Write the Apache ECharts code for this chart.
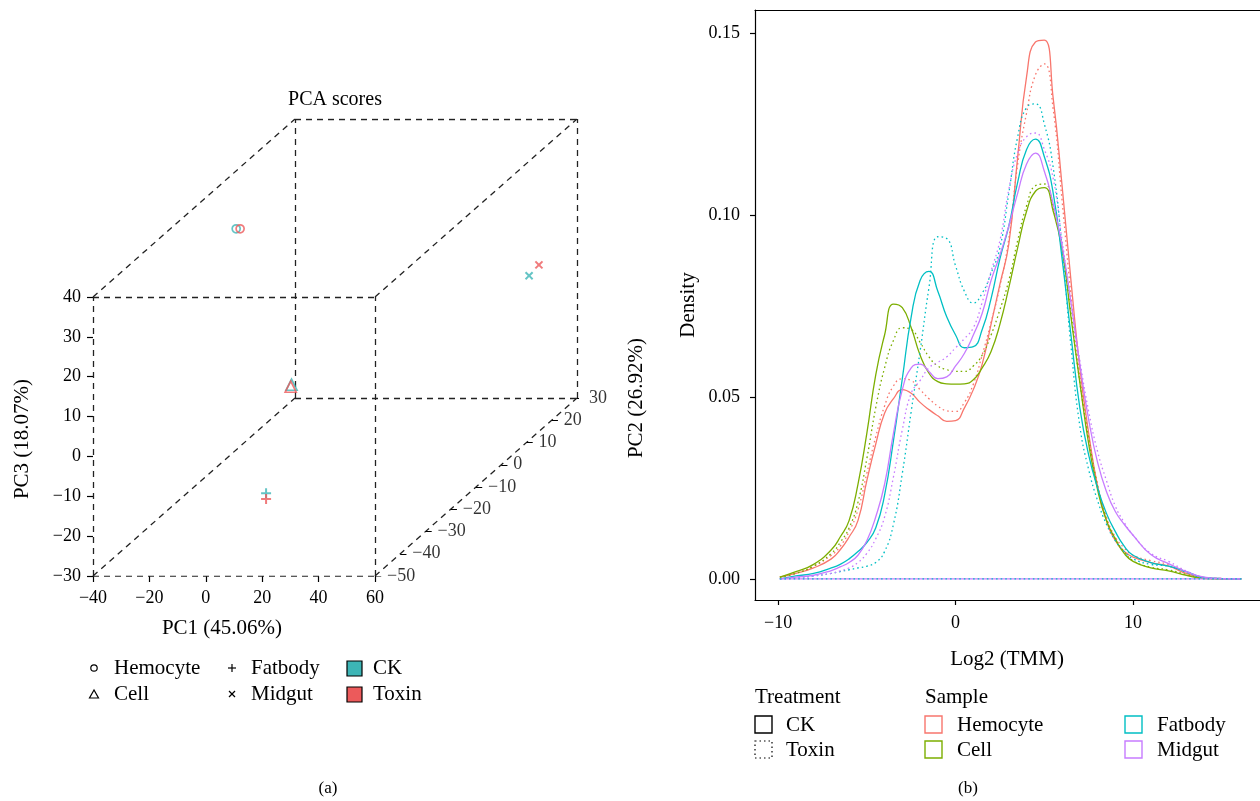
<!DOCTYPE html>
<html>
<head>
<meta charset="utf-8">
<script src="https://cdn.jsdelivr.net/npm/echarts@6/dist/echarts.min.js"></script>
<style>
html, body { margin: 0; padding: 0; background: #fff; }
#chart { width: 1260px; height: 801px; }
</style>
</head>
<body>
<div id="chart"></div>
<script>
const FONT = '"Liberation Serif", "DejaVu Serif", serif'

// ---------- (a) PCA scores ----------
const tissues = ['Hemocyte', 'Cell', 'Fatbody', 'Midgut']
const treatments = ['CK', 'Toxin']
const treatmentColors = ['#3db5b6', '#ec5a5b']

const pc1CK = [-34.0, -27.8, 16.9, 44.8]
const pc2CK = [0, 15, -45, 28]
const pc3CK = [29.2, -18.3, -12.0, 1.8]
const pc1Toxin = [-32.6, -28.1, 16.9, 46.5]
const pc2Toxin = [0, 15, -45, 30]
const pc3Toxin = [29.2, -18.8, -13.5, 3.4]

const pc1Ticks = [-40, -20, 0, 20, 40, 60]
const pc2Ticks = [-50, -40, -30, -20, -10, 0, 10, 20, 30]
const pc3Ticks = [-30, -20, -10, 0, 10, 20, 30, 40]

// ---------- (b) density of Log2(TMM) ----------
const samples = ['Hemocyte', 'Cell', 'Fatbody', 'Midgut']
const sampleColors = ['#F8766D', '#7CAE00', '#00BFC4', '#C77CFF']
const logTmm = [-9.9, -9, -8, -7, -6.5, -6, -5.5, -5, -4.5, -4, -3.5, -3, -2.5, -2, -1.5, -1, -0.5, 0, 0.5, 1,
  1.5, 2, 2.5, 3, 3.5, 4, 4.5, 5, 5.5, 6, 6.5, 7, 7.5, 8, 8.5, 9, 9.5, 10, 11, 12, 13, 14, 15, 16.1]
const hemocyteCK = [0.0005, 0.0015, 0.003, 0.0055, 0.008, 0.0115, 0.016, 0.027, 0.037, 0.0455, 0.0495, 0.052, 0.051, 0.0485, 0.0465, 0.0448, 0.0433, 0.0435, 0.047, 0.052,
  0.059, 0.07, 0.081, 0.092, 0.116, 0.138, 0.1475, 0.148, 0.132, 0.108, 0.082, 0.058, 0.04, 0.0255, 0.016, 0.0105, 0.0075, 0.006, 0.0045, 0.0035, 0.0015, 0.0003, 0.0001, 0]
const hemocyteToxin = [0.0005, 0.0015, 0.0035, 0.0065, 0.009, 0.013, 0.019, 0.029, 0.039, 0.0475, 0.053, 0.055, 0.0545, 0.052, 0.0495, 0.0475, 0.0462, 0.046, 0.0485, 0.0535,
  0.0615, 0.0705, 0.0805, 0.0935, 0.114, 0.128, 0.1385, 0.1415, 0.129, 0.104, 0.078, 0.056, 0.039, 0.026, 0.017, 0.0115, 0.0085, 0.0065, 0.005, 0.004, 0.002, 0.0004, 0.0001, 0]
const cellCK = [0.0005, 0.002, 0.004, 0.008, 0.0115, 0.016, 0.026, 0.04, 0.056, 0.067, 0.0755, 0.0745, 0.069, 0.0615, 0.0565, 0.0542, 0.0536, 0.0535, 0.0536, 0.0547,
  0.058, 0.0625, 0.07, 0.08, 0.091, 0.101, 0.1065, 0.1075, 0.101, 0.0905, 0.072, 0.054, 0.037, 0.0245, 0.016, 0.011, 0.007, 0.0048, 0.003, 0.0022, 0.001, 0.0001, 0, 0]
const cellToxin = [0.0005, 0.0015, 0.0035, 0.007, 0.01, 0.014, 0.021, 0.033, 0.047, 0.058, 0.0655, 0.069, 0.0685, 0.065, 0.061, 0.0585, 0.0575, 0.057, 0.057, 0.0585,
  0.0615, 0.067, 0.074, 0.082, 0.093, 0.1025, 0.108, 0.1085, 0.102, 0.091, 0.073, 0.054, 0.0385, 0.0255, 0.0165, 0.011, 0.0075, 0.005, 0.0032, 0.0025, 0.0012, 0.0002, 0, 0]
const fatbodyCK = [0, 0.0008, 0.0015, 0.003, 0.004, 0.0055, 0.0075, 0.01, 0.014, 0.023, 0.038, 0.055, 0.072, 0.082, 0.0845, 0.079, 0.072, 0.067, 0.0635, 0.0638,
  0.0685, 0.077, 0.088, 0.097, 0.109, 0.118, 0.1208, 0.116, 0.106, 0.088, 0.067, 0.047, 0.034, 0.025, 0.018, 0.013, 0.009, 0.0065, 0.0045, 0.0035, 0.002, 0.0004, 0.0001, 0]
const fatbodyToxin = [0, 0.0003, 0.0008, 0.0015, 0.002, 0.0025, 0.003, 0.0035, 0.0045, 0.0075, 0.015, 0.029, 0.046, 0.0625, 0.08, 0.094, 0.0935, 0.086, 0.079, 0.0758,
  0.0785, 0.084, 0.091, 0.106, 0.1215, 0.1295, 0.1305, 0.125, 0.113, 0.091, 0.064, 0.042, 0.03, 0.0215, 0.015, 0.0105, 0.0075, 0.0055, 0.004, 0.0035, 0.0018, 0.0003, 0.0001, 0]
const midgutCK = [0, 0.0005, 0.001, 0.0023, 0.0033, 0.0045, 0.0065, 0.0105, 0.017, 0.026, 0.04, 0.052, 0.058, 0.059, 0.057, 0.055, 0.0555, 0.0585, 0.062, 0.067,
  0.073, 0.082, 0.089, 0.097, 0.106, 0.114, 0.117, 0.112, 0.103, 0.0915, 0.076, 0.059, 0.0437, 0.032, 0.024, 0.0185, 0.015, 0.012, 0.0067, 0.0042, 0.002, 0.0005, 0.0001, 0]
const midgutToxin = [0, 0.0003, 0.0008, 0.0015, 0.0022, 0.003, 0.0045, 0.007, 0.011, 0.017, 0.028, 0.041, 0.051, 0.0545, 0.058, 0.0595, 0.061, 0.0635, 0.066, 0.069,
  0.076, 0.0845, 0.093, 0.107, 0.117, 0.1215, 0.1225, 0.118, 0.11, 0.093, 0.076, 0.06, 0.046, 0.035, 0.027, 0.02, 0.0155, 0.012, 0.007, 0.0048, 0.0022, 0.0005, 0.0001, 0]
const densityTicksX = [-10, 0, 10]
const densityTicksY = [0, 0.05, 0.1, 0.15]

// oblique projection of the PCA box (scatterplot3d style)
const pc1Lim = [pc1Ticks[0], pc1Ticks[pc1Ticks.length - 1]]
const pc2Lim = [pc2Ticks[0], pc2Ticks[pc2Ticks.length - 1]]
const pc3Lim = [pc3Ticks[0], pc3Ticks[pc3Ticks.length - 1]]
const SHEAR_X = 0.8954
const SHEAR_Y = 0.5582
const proj = (a, b, c) => [a + (b - pc2Lim[0]) * SHEAR_X, c + (b - pc2Lim[0]) * SHEAR_Y]
const depth = pc2Lim[1] - pc2Lim[0]

const corners = []
pc1Lim.forEach(a => pc2Lim.forEach(b => pc3Lim.forEach(c => corners.push([a, b, c]))))
const boxEdges = []
corners.forEach((p, i) => corners.forEach((q, j) => {
    if (j > i && p.filter((v, k) => v !== q[k]).length === 1) boxEdges.push({ coords: [proj(...p), proj(...q)] })
}))
const pc2TickLines = pc2Ticks.map(t => ({ coords: [proj(pc1Lim[1], t, pc3Lim[0]), proj(pc1Lim[1] + 2.2, t, pc3Lim[0])] }))

const minus = v => (v < 0 ? '\u2212' + Math.abs(v) : String(v))

const PLUS = 'path://M4,0H6V4H10V6H6V10H4V6H0V4H4Z'
const markStyle = (i, color) => {
    const hollow = { color: 'rgba(0,0,0,0)', borderColor: color, borderWidth: 1.7 }
    if (i === 0) return { symbol: 'circle', symbolSize: 8, itemStyle: hollow }
    if (i === 1) return { symbol: 'triangle', symbolSize: 11, itemStyle: hollow }
    return { symbol: PLUS, symbolSize: 10, symbolRotate: i === 3 ? 45 : 0, itemStyle: { color } }
}

const pcaScores = [[pc1CK, pc2CK, pc3CK], [pc1Toxin, pc2Toxin, pc3Toxin]]
const pcaSeries = treatments.map((t, ti) => ({
    type: 'scatter', name: t, xAxisIndex: 0, yAxisIndex: 0, z: 5,
    data: tissues.map((name, i) => ({
        name,
        value: proj(pcaScores[ti][0][i], pcaScores[ti][1][i], pcaScores[ti][2][i]),
        ...markStyle(i, treatmentColors[ti])
    }))
}))

const densities = [[hemocyteCK, hemocyteToxin], [cellCK, cellToxin], [fatbodyCK, fatbodyToxin], [midgutCK, midgutToxin]]
const densitySeries = []
samples.forEach((s, si) => treatments.forEach((t, ti) => {
    densitySeries.push({
        type: 'line', name: s + ' ' + t, xAxisIndex: 1, yAxisIndex: 1, showSymbol: false, smooth: 0.5,
        lineStyle: { color: sampleColors[si], width: 1.3, type: ti === 0 ? 'solid' : [1.6, 3] },
        data: logTmm.map((x, k) => [x, densities[si][ti][k]])
    })
}))
const baseline = [[logTmm[0], 0], [logTmm[logTmm.length - 1], 0]]
densitySeries.push(
    { type: 'line', xAxisIndex: 1, yAxisIndex: 1, showSymbol: false, data: baseline, lineStyle: { color: sampleColors[3], width: 1.3 } },
    { type: 'line', xAxisIndex: 1, yAxisIndex: 1, showSymbol: false, data: baseline, lineStyle: { color: sampleColors[2], width: 1.3, type: [1.6, 3] } }
)

// ---------- text and legend helpers ----------
const txt = (text, x, y, size, align = 'left', rotation = 0) => ({
    type: 'text', x, y, rotation, z: 10,
    style: { text, font: `${size}px ${FONT}`, fill: '#000', align, verticalAlign: 'middle', textAlign: align, textVerticalAlign: 'middle' }
})
const blk = { fill: 'none', stroke: '#000', lineWidth: 1.2 }
const graphic = [
    txt('PCA scores', 335, 100, 20, 'center'),
    txt('PC1 (45.06%)', 222, 628, 21, 'center'),
    txt('PC3 (18.07%)', 22, 439, 21, 'center', Math.PI / 2),
    txt('PC2 (26.92%)', 636, 398, 21, 'center', Math.PI / 2),
    { type: 'circle', shape: { cx: 94, cy: 668, r: 3.2 }, style: blk },
    { type: 'polygon', shape: { points: [[94, 690], [89.5, 698], [98.5, 698]] }, style: blk },
    { type: 'line', shape: { x1: 228, y1: 668, x2: 236, y2: 668 }, style: blk },
    { type: 'line', shape: { x1: 232, y1: 664, x2: 232, y2: 672 }, style: blk },
    { type: 'line', shape: { x1: 229, y1: 691, x2: 235, y2: 697 }, style: blk },
    { type: 'line', shape: { x1: 235, y1: 691, x2: 229, y2: 697 }, style: blk },
    { type: 'rect', shape: { x: 347, y: 661, width: 15, height: 15 }, style: { fill: treatmentColors[0], stroke: '#000', lineWidth: 1.2 } },
    { type: 'rect', shape: { x: 347, y: 687, width: 15, height: 15 }, style: { fill: treatmentColors[1], stroke: '#000', lineWidth: 1.2 } },
    txt(tissues[0], 114, 668, 21), txt(tissues[1], 114, 694, 21),
    txt(tissues[2], 251, 668, 21), txt(tissues[3], 251, 694, 21),
    txt(treatments[0], 373, 668, 21), txt(treatments[1], 373, 694, 21),
    txt('(a)', 328, 789, 17, 'center'),
    txt('(b)', 968, 789, 17, 'center'),
    txt('Density', 688, 305, 21, 'center', Math.PI / 2),
    txt('Log2 (TMM)', 1007, 659, 21, 'center'),
    txt('Treatment', 755, 697, 21), txt('Sample', 925, 697, 21),
    { type: 'rect', shape: { x: 755, y: 716, width: 17, height: 17 }, style: { fill: 'none', stroke: '#000', lineWidth: 1.4 } },
    { type: 'rect', shape: { x: 755, y: 741, width: 17, height: 17 }, style: { fill: 'none', stroke: '#000', lineWidth: 1.2, lineDash: [1.5, 3] } },
    txt(treatments[0], 786, 725, 21), txt(treatments[1], 786, 750, 21)
]
samples.forEach((s, i) => {
    const x = i < 2 ? 925 : 1125
    const y = i % 2 === 0 ? 716 : 741
    graphic.push(
        { type: 'rect', shape: { x, y, width: 17, height: 17 }, style: { fill: 'none', stroke: sampleColors[i], lineWidth: 1.4 } },
        txt(s, x + 32, y + 9, 21)
    )
})

const DENS_X_MIN = -11.3
const DENS_PX_PER_UNIT = 17.75
const densWidth = 505

const chart = echarts.init(document.getElementById('chart'))
chart.setOption({
    animation: false,
    textStyle: { fontFamily: FONT, color: '#000' },
    grid: [
        { left: 93, top: 119, width: 484, height: 457 },
        { left: 755, top: 10, width: densWidth, height: 590 }
    ],
    xAxis: [
        {
            gridIndex: 0, type: 'value', min: pc1Lim[0], max: pc1Lim[1] + depth * SHEAR_X,
            axisLine: { show: false, onZero: false }, splitLine: { show: false },
            axisTick: { show: true, customValues: pc1Ticks, length: 6, lineStyle: { color: '#000', width: 1.2 } },
            axisLabel: { customValues: pc1Ticks, formatter: minus, fontSize: 18, color: '#000', margin: 13, fontFamily: FONT }
        },
        {
            gridIndex: 1, type: 'value', min: DENS_X_MIN, max: DENS_X_MIN + densWidth / DENS_PX_PER_UNIT,
            axisLine: { onZero: false, lineStyle: { color: '#000', width: 1.2 } }, splitLine: { show: false },
            axisTick: { customValues: densityTicksX, length: 5, lineStyle: { color: '#000', width: 1.2 } },
            axisLabel: { customValues: densityTicksX, formatter: minus, fontSize: 18, color: '#000', margin: 14, fontFamily: FONT }
        },
        {
            // top frame line of panel (b)
            gridIndex: 1, type: 'value', position: 'top', min: DENS_X_MIN, max: DENS_X_MIN + densWidth / DENS_PX_PER_UNIT,
            axisLine: { onZero: false, lineStyle: { color: '#000', width: 1.2 } },
            axisTick: { show: false }, axisLabel: { show: false }, splitLine: { show: false }
        }
    ],
    yAxis: [
        {
            gridIndex: 0, type: 'value', min: pc3Lim[0], max: pc3Lim[1] + depth * SHEAR_Y,
            axisLine: { show: false, onZero: false }, splitLine: { show: false },
            axisTick: { show: true, customValues: pc3Ticks, length: 6, lineStyle: { color: '#000', width: 1.2 } },
            axisLabel: { customValues: pc3Ticks, formatter: minus, fontSize: 18, color: '#000', margin: 12, fontFamily: FONT }
        },
        {
            gridIndex: 1, type: 'value', min: -0.0058, max: 0.1563,
            axisLine: { onZero: false, lineStyle: { color: '#000', width: 1.2 } }, splitLine: { show: false },
            axisTick: { customValues: densityTicksY, length: 5, lineStyle: { color: '#000', width: 1.2 } },
            axisLabel: { customValues: densityTicksY, formatter: v => v.toFixed(2), fontSize: 18, color: '#000', margin: 15, fontFamily: FONT }
        }
    ],
    series: [
        {
            type: 'lines', coordinateSystem: 'cartesian2d', xAxisIndex: 0, yAxisIndex: 0, z: 2,
            lineStyle: { color: '#222', width: 1.3, type: [6, 5], opacity: 1 }, data: boxEdges
        },
        {
            type: 'lines', coordinateSystem: 'cartesian2d', xAxisIndex: 0, yAxisIndex: 0, z: 2,
            lineStyle: { color: '#000', width: 1.2, opacity: 1 }, data: pc2TickLines
        },
        {
            type: 'scatter', xAxisIndex: 0, yAxisIndex: 0, symbolSize: 0, z: 3,
            data: pc2Ticks.map(t => ({ value: proj(pc1Lim[1], t, pc3Lim[0]), tick: t })),
            label: { show: true, position: 'right', distance: 12, fontSize: 18, color: '#000', fontFamily: FONT, formatter: p => minus(p.data.tick) }
        },
        ...pcaSeries,
        ...densitySeries
    ],
    graphic
})
</script>
</body>
</html>
